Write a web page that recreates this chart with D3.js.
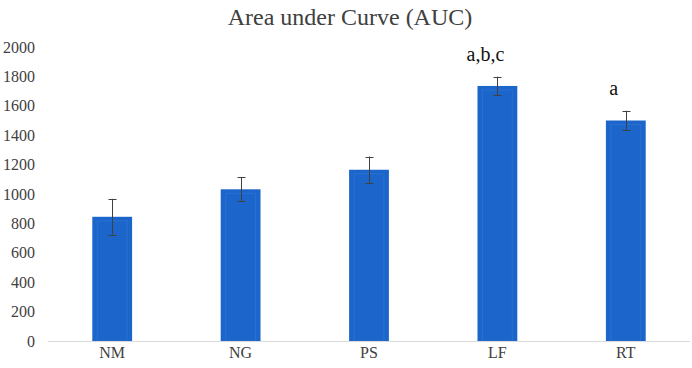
<!DOCTYPE html>
<html lang="en">
<head>
    <title>Area under Curve (AUC)</title>
    <script src="https://d3js.org/d3.v7.min.js"></script>
    <style>
        body { margin: 0; background: #fff; }
    </style>
</head>
<body>
<script>
    // data
    const groups  = ["NM", "NG", "PS", "LF", "RT"];
    const auc     = [845, 1032, 1165, 1735, 1500];
    const errs    = [122, 82, 90, 63, 66];
    const letters = ["", "", "", "a,b,c", "a"];
    const yTicks  = [0, 200, 400, 600, 800, 1000, 1200, 1400, 1600, 1800, 2000];

    const width = 692, height = 368;
    const plotLeft = 48, plotRight = 690, plotTop = 47, plotBottom = 341;
    const serif = "'Liberation Serif'";

    const svg = d3.select("body").append("svg")
        .attr("width", width)
        .attr("height", height);

    const x = d3.scaleBand()
        .domain(groups)
        .range([plotLeft, plotRight])
        .paddingInner(0.69)
        .paddingOuter(0.345);

    const y = d3.scaleLinear()
        .domain([0, 2000])
        .range([plotBottom, plotTop]);

    // title
    svg.append("text")
        .attr("x", 350)
        .attr("y", 25)
        .attr("text-anchor", "middle")
        .style("font-family", serif)
        .style("font-size", "24px")
        .attr("fill", "#404040")
        .text("Area under Curve (AUC)");

    // y tick labels (no axis line in the original)
    svg.append("g")
        .selectAll("text")
        .data(yTicks)
        .join("text")
        .attr("x", 35)
        .attr("y", d => y(d))
        .attr("dy", "0.35em")
        .attr("text-anchor", "end")
        .style("font-family", serif)
        .style("font-size", "16px")
        .attr("fill", "#404040")
        .text(d => d);

    // bars
    const bars = svg.append("g")
        .selectAll("g")
        .data(groups)
        .join("g");

    bars.append("rect")
        .attr("x", d => x(d))
        .attr("y", (d, i) => y(auc[i]))
        .attr("width", x.bandwidth())
        .attr("height", (d, i) => y(0) - y(auc[i]))
        .attr("fill", "#1c66cb");

    // faint inner stripes seen in the original
    bars.append("rect")
        .attr("x", d => x(d) + 5)
        .attr("y", (d, i) => y(auc[i]) + 4)
        .attr("width", x.bandwidth() - 10)
        .attr("height", (d, i) => y(0) - y(auc[i]) - 4)
        .attr("fill", "none")
        .attr("stroke", "#2a70d2")
        .attr("stroke-width", 1);

    // x axis line
    svg.append("line")
        .attr("x1", plotLeft)
        .attr("x2", plotRight)
        .attr("y1", y(0) + 0.5)
        .attr("y2", y(0) + 0.5)
        .attr("stroke", "#d9d9d9")
        .attr("stroke-width", 1);

    // error bars
    const eb = svg.append("g")
        .attr("stroke", "#404040")
        .attr("stroke-width", 1);

    groups.forEach((g, i) => {
        const cx = Math.round(x(g) + x.bandwidth() / 2) + 0.5;
        eb.append("line")
            .attr("x1", cx).attr("x2", cx)
            .attr("y1", y(auc[i] + errs[i]))
            .attr("y2", y(auc[i] - errs[i]));
        [auc[i] + errs[i], auc[i] - errs[i]].forEach(v => {
            eb.append("line")
                .attr("x1", cx - 4).attr("x2", cx + 4)
                .attr("y1", Math.round(y(v)) + 0.5)
                .attr("y2", Math.round(y(v)) + 0.5);
        });
    });

    // x labels
    svg.append("g")
        .selectAll("text")
        .data(groups)
        .join("text")
        .attr("x", d => x(d) + x.bandwidth() / 2)
        .attr("y", 358)
        .attr("text-anchor", "middle")
        .style("font-family", serif)
        .style("font-size", "16px")
        .attr("fill", "#404040")
        .text(d => d);

    // significance letters
    svg.append("g")
        .selectAll("text")
        .data(groups)
        .join("text")
        .attr("x", d => x(d) + x.bandwidth() / 2 - 12)
        .attr("y", (d, i) => y(auc[i] + errs[i]) - 16)
        .attr("text-anchor", "middle")
        .style("font-family", serif)
        .style("font-size", "20px")
        .attr("fill", "#111")
        .text((d, i) => letters[i]);
</script>
</body>
</html>
